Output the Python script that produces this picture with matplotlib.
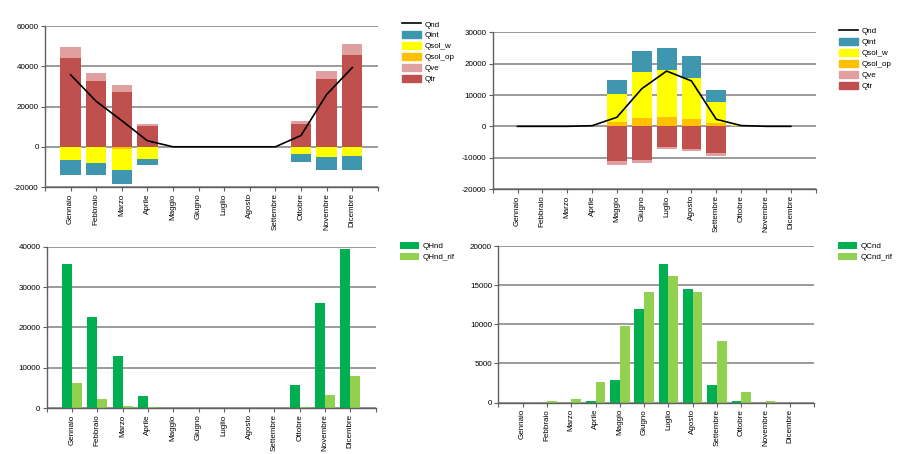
import numpy as np
import matplotlib.pyplot as plt
from matplotlib.lines import Line2D
from matplotlib.patches import Patch

plt.rcParams["font.family"] = ["Liberation Sans", "DejaVu Sans"]

months = ["Gennaio", "Febbraio", "Marzo", "Aprile", "Maggio", "Giugno",
          "Luglio", "Agosto", "Settembre", "Ottobre", "Novembre", "Dicembre"]

# heating balance (top left)
qtr_h = [44100, 32600, 27400, 10100, 0, 0, 0, 0, 0, 11400, 33700, 45600]
qve_h = [5600, 4300, 3150, 1300, 0, 0, 0, 0, 0, 1650, 4150, 5450]
qsol_op_h = [-200, -200, -1150, -200, 0, 0, 0, 0, 0, -200, -200, -200]
qsol_w_h = [-6600, -7700, -10400, -5900, 0, 0, 0, 0, 0, -3600, -4900, -4600]
qint_h = [-7100, -6300, -6800, -3150, 0, 0, 0, 0, 0, -3650, -6600, -6950]

# cooling balance (top right)
qtr_c = [0, 0, 0, 0, -11050, -10750, -6700, -7150, -8400, 0, 0, 0]
qve_c = [0, 0, 0, 0, -1200, -950, -450, -750, -1050, 0, 0, 0]
qsol_op_c = [0, 0, 0, 0, 1300, 2550, 2850, 2350, 1150, 0, 0, 0]
qsol_w_c = [0, 0, 0, 0, 9050, 14700, 15250, 13200, 6500, 300, 0, 0]
qint_c = [0, 0, 0, 0, 4450, 6700, 6900, 6800, 3850, 0, 0, 0]

# needs
QHnd = [35800, 22600, 13000, 3000, 0, 0, 0, 0, 0, 5650, 26000, 39350]
QHnd_rif = [6300, 2250, 400, 150, 0, 0, 0, 0, 0, 150, 3300, 8050]
QCnd = [0, 0, 0, 200, 2900, 12000, 17650, 14500, 2250, 250, 0, 0]
QCnd_rif = [0, 250, 500, 2650, 9800, 14100, 16150, 14100, 7900, 1300, 250, 0]

C_TR = "#c0504d"
C_VE = "#e0a0a0"
C_OP = "#ffc000"
C_W = "#ffff00"
C_INT = "#3e97ae"
C_G1 = "#00b050"
C_G2 = "#92d050"
GRID = "#808080"
FS = 5.8

x = np.arange(1, 13)


def style_axes(ax, ymin, ymax, step):
    ax.set_xlim(0, 13)
    ax.set_ylim(ymin, ymax)
    ax.set_yticks(np.arange(ymin, ymax + 1, step))
    ax.set_yticklabels([str(int(v)) for v in np.arange(ymin, ymax + 1, step)])
    ax.set_xticks(x)
    ax.set_xticklabels(months, rotation=90, va="top", ha="center")
    ax.set_xticks([0, 13], minor=True)
    ax.grid(axis="y", color=GRID, linewidth=1.1)
    ax.set_axisbelow(True)
    for s in ("top", "right"):
        ax.spines[s].set_visible(False)
    for s in ("left", "bottom"):
        ax.spines[s].set_color("#606060")
        ax.spines[s].set_linewidth(1.0)
    ax.tick_params(which="both", length=3, width=0.8, color="#606060",
                   labelsize=FS, pad=1.5)


def stacked(ax, series, colors):
    pos = np.zeros(12)
    neg = np.zeros(12)
    for vals, col in zip(series, colors):
        v = np.asarray(vals, dtype=float)
        bot = np.where(v >= 0, pos, neg)
        ax.bar(x, v, 0.8, bottom=bot, color=col, linewidth=0)
        pos += np.clip(v, 0, None)
        neg += np.clip(v, None, 0)


def bal_legend(ax, fig, anchor):
    handles = [Line2D([], [], color="black", lw=1.2),
               Patch(color=C_INT), Patch(color=C_W), Patch(color=C_OP),
               Patch(color=C_VE), Patch(color=C_TR)]
    labels = ["Qnd", "Qint", "Qsol_w", "Qsol_op", "Qve", "Qtr"]
    ax.legend(handles, labels, loc="upper left", bbox_to_anchor=anchor,
              bbox_transform=fig.transFigure, frameon=False, fontsize=FS,
              handlelength=2.4, handleheight=0.9, handletextpad=0.4,
              labelspacing=0.35, borderaxespad=0, borderpad=0)


fig = plt.figure(figsize=(9.07, 4.54), dpi=100)

# top left
ax1 = fig.add_axes([0.0496, 0.588, 0.367, 0.3546])
stacked(ax1, [qtr_h, qve_h, qsol_op_h, qsol_w_h, qint_h],
        [C_TR, C_VE, C_OP, C_W, C_INT])
ax1.plot(x, QHnd, color="black", lw=1.2)
style_axes(ax1, -20000, 60000, 20000)
bal_legend(ax1, fig, (0.443, 0.955))

# top right
ax2 = fig.add_axes([0.5432, 0.5837, 0.3561, 0.345])
stacked(ax2, [qtr_c, qve_c, qsol_op_c, qsol_w_c, qint_c],
        [C_TR, C_VE, C_OP, C_W, C_INT])
ax2.plot(x, QCnd, color="black", lw=1.2)
style_axes(ax2, -20000, 30000, 10000)
bal_legend(ax2, fig, (0.925, 0.940))

# bottom left
ax3 = fig.add_axes([0.0515, 0.1013, 0.3627, 0.3553])
ax3.bar(x - 0.2, QHnd, 0.4, color=C_G1, label="QHnd", linewidth=0)
ax3.bar(x + 0.2, QHnd_rif, 0.4, color=C_G2, label="QHnd_rif", linewidth=0)
style_axes(ax3, 0, 40000, 10000)
ax3.legend(loc="upper left", bbox_to_anchor=(0.441, 0.467),
           bbox_transform=fig.transFigure, frameon=False, fontsize=FS,
           handlelength=2.4, handleheight=0.9, handletextpad=0.4,
           labelspacing=0.35, borderaxespad=0, borderpad=0)

# bottom right
ax4 = fig.add_axes([0.5494, 0.1134, 0.3484, 0.3447])
ax4.bar(x - 0.2, QCnd, 0.4, color=C_G1, label="QCnd", linewidth=0)
ax4.bar(x + 0.2, QCnd_rif, 0.4, color=C_G2, label="QCnd_rif", linewidth=0)
style_axes(ax4, 0, 20000, 5000)
ax4.legend(loc="upper left", bbox_to_anchor=(0.924, 0.467),
           bbox_transform=fig.transFigure, frameon=False, fontsize=FS,
           handlelength=2.4, handleheight=0.9, handletextpad=0.4,
           labelspacing=0.35, borderaxespad=0, borderpad=0)

fig.savefig("out.png", dpi=100)
